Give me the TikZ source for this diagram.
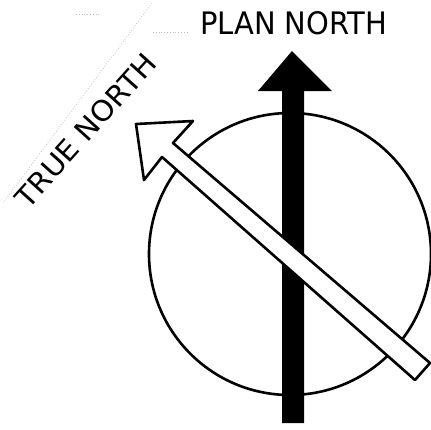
\documentclass[tikz,border=0pt]{standalone}
\usepackage{fontspec}
\setmainfont{DejaVu Sans}
\begin{document}
\begin{tikzpicture}[x=1pt,y=-1pt,line join=round]
\tikzset{
  outline/.style={draw=black,line width=2.6pt},
  lettering/.style={inner sep=0pt,outer sep=0pt},
  guide/.style={draw=black!25,dotted,line width=0.8pt}
}
\useasboundingbox (0,0) rectangle (431,429);
% faint guide lines
\draw[guide] (152,3) -- (3,203);
\draw[guide] (76,14) -- (100,14);
\draw[guide] (153,32) -- (188,32);
% circle
\coordinate (c) at (290,254);
\draw[outline] (c) circle[radius=141];
% plan north (black arrow)
\fill[black] (282,423) -- (282,91) -- (258,91) -- (292,51) -- (332,91) -- (304,91) -- (304,423) -- cycle;
% true north (white arrow)
\filldraw[outline,fill=white] (136,124) -- (193,121) -- (173,143) -- (430,363) -- (415,380) -- (162,157) -- (144,180) -- cycle;
% labels
\node[lettering,anchor=base west] (plan) at (200,34) {\resizebox{187pt}{23pt}{PLAN NORTH}};
\node[lettering,anchor=base west,rotate=48] (true) at (28,210) {\resizebox{195pt}{21pt}{TRUE NORTH}};
\end{tikzpicture}
\end{document}
